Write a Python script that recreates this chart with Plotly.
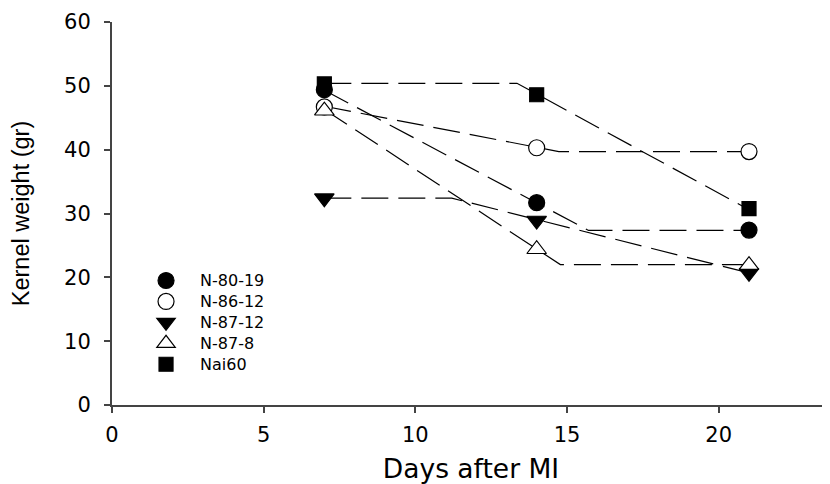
import plotly.graph_objects as go

# Observed data
days = [7, 14, 21]
series_names = ["N-80-19", "N-86-12", "N-87-12", "N-87-8", "Nai60"]
n_80_19 = [49.4, 31.7, 27.4]
n_86_12 = [46.7, 40.3, 39.7]
n_87_12 = [32.4, 28.9, 20.7]
n_87_8 = [46.1, 24.4, 21.9]
nai60 = [50.3, 48.6, 30.75]

# Fitted broken-line (segmented) curves, breakpoints
fit_x_80_19 = [7, 15.71, 21]
fit_y_80_19 = [49.3, 27.35, 27.35]
fit_x_86_12 = [7, 14.73, 21]
fit_y_86_12 = [46.8, 39.7, 39.7]
fit_x_87_12 = [7, 11.2, 21]
fit_y_87_12 = [32.4, 32.4, 20.7]
fit_x_87_8 = [7, 14.78, 21]
fit_y_87_8 = [46.3, 22.0, 22.0]
fit_x_nai60 = [7, 13.35, 21]
fit_y_nai60 = [50.4, 50.4, 30.6]

x_ticks = [0, 5, 10, 15, 20]
y_ticks = [0, 10, 20, 30, 40, 50, 60]

values = [n_80_19, n_86_12, n_87_12, n_87_8, nai60]
fits = [(fit_x_80_19, fit_y_80_19), (fit_x_86_12, fit_y_86_12),
        (fit_x_87_12, fit_y_87_12), (fit_x_87_8, fit_y_87_8),
        (fit_x_nai60, fit_y_nai60)]
symbols = ["circle", "circle", "triangle-down", "triangle-up", "square"]
fills = ["black", "white", "black", "white", "black"]
sizes = [16, 16, 17, 17, 14]

fig = go.Figure()

for (fx, fy) in fits:
    fig.add_trace(go.Scatter(
        x=fx, y=fy, mode="lines", showlegend=False, hoverinfo="skip",
        line=dict(color="black", width=1.2, dash="27px,10px"),
    ))

for name, vals, sym, fc, sz in zip(series_names, values, symbols, fills, sizes):
    fig.add_trace(go.Scatter(
        x=days, y=vals, mode="markers",
        name=f"<span style='font-size:16px'>{name}</span>",
        marker=dict(symbol=sym, size=sz, color=fc,
                    line=dict(color="black", width=1.2)),
    ))

axis_common = dict(
    showgrid=False, zeroline=False, showline=True, linecolor="#444",
    linewidth=2, ticks="outside", ticklen=6, tickwidth=1.5, tickcolor="#444",
    tickfont=dict(family="DejaVu Sans", size=21, color="black"),
    automargin=False,
)

fig.update_layout(
    width=822, height=476,
    margin=dict(l=104, r=0, t=14, b=79),
    paper_bgcolor="white", plot_bgcolor="white",
    xaxis=dict(range=[0, 23.67], tickvals=x_ticks,
               title=dict(text="Days after MI",
                          font=dict(family="DejaVu Sans", size=26.5, color="black"),
                          standoff=14),
               ticklabelstandoff=4,
               **axis_common),
    yaxis=dict(range=[0, 60], tickvals=y_ticks,
               title=dict(text="Kernel weight (gr)",
                          font=dict(family="Liberation Sans", size=23.5, color="black"),
                          standoff=30),
               ticklabelstandoff=9,
               **axis_common),
    legend=dict(x=0.0279, y=0.3655, xanchor="left", yanchor="top",
                bgcolor="rgba(0,0,0,0)",
                font=dict(family="DejaVu Sans", size=13.8, color="black"),
                tracegroupgap=0, itemwidth=58),
    showlegend=True,
)

fig.write_html("out.html")
